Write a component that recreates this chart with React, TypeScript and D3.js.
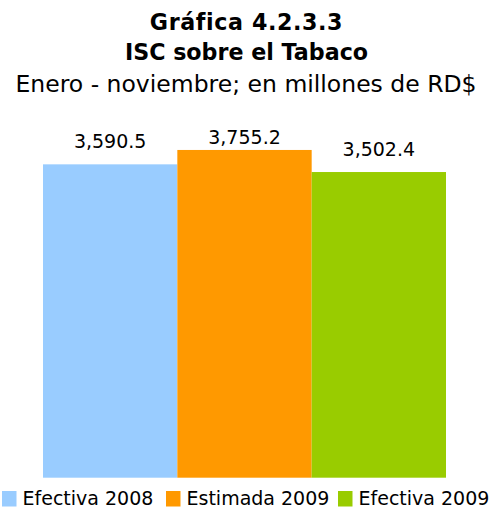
import React from "react";
import * as d3 from "d3";

const categories = ["Efectiva 2008", "Estimada 2009", "Efectiva 2009"];
const values = [3590.5, 3755.2, 3502.4];
const colors = ["#99CCFF", "#FF9900", "#99CC00"];
const titleLines = ["Gráfica 4.2.3.3", "ISC sobre el Tabaco"];
const subtitle = "Enero - noviembre; en millones de RD$";

const W = 496;
const H = 508;
const FONT = "'DejaVu Sans', Verdana, sans-serif";

export default function App() {
  const x = d3.scaleBand<string>().domain(categories).range([43, 446]).padding(0);
  const y = d3.scaleLinear().domain([0, 4000]).range([477.7, 128.6]);
  const fmt = d3.format(",.1f");

  const legendX = [2, 166, 338];

  return (
    <svg
      width={W}
      height={H}
      style={{ position: "absolute", left: 0, top: 0, background: "#fff" }}
    >
      <text x={246.5} y={30} textAnchor="middle" fontFamily={FONT} fontWeight="bold" fontSize={22.2} letterSpacing={0.6} fill="#000">
        {titleLines[0]}
      </text>
      <text x={246.5} y={59.5} textAnchor="middle" fontFamily={FONT} fontWeight="bold" fontSize={22.2} fill="#000">
        {titleLines[1]}
      </text>
      <text x={246} y={92.3} textAnchor="middle" fontFamily={FONT} fontSize={23.5} fill="#000">
        {subtitle}
      </text>

      {categories.map((c, i) => (
        <rect
          key={c}
          x={x(c)!}
          y={y(values[i])}
          width={x.bandwidth()}
          height={y(0) - y(values[i])}
          fill={colors[i]}
        />
      ))}

      {categories.map((c, i) => (
        <text
          key={"l" + c}
          x={x(c)! + x.bandwidth() / 2}
          y={Math.max(y(values[i]) - 16.5, 144)}
          textAnchor="middle"
          fontFamily={FONT}
          fontSize={19}
          fill="#000"
        >
          {fmt(values[i])}
        </text>
      ))}

      {categories.map((c, i) => (
        <g key={"lg" + c} transform={`translate(${legendX[i]},0)`}>
          <rect x={0} y={491} width={14.5} height={15.5} fill={colors[i]} />
          <text x={20.5} y={504.5} fontFamily={FONT} fontSize={19} fill="#000">
            {c}
          </text>
        </g>
      ))}
    </svg>
  );
}
